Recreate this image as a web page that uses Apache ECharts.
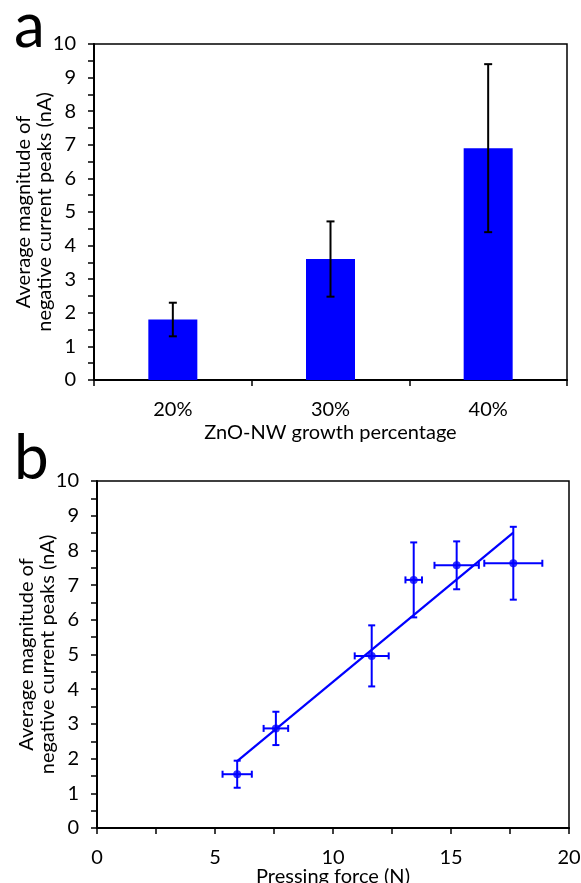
<!DOCTYPE html>
<html>
<head>
<meta charset="utf-8">
<script src="https://cdn.jsdelivr.net/npm/echarts@6/dist/echarts.min.js"></script>
<style>
  html, body { margin: 0; padding: 0; background: #fff; }
  #main { width: 581px; height: 883px; }
</style>
</head>
<body>
<div id="main"></div>
<script>
// panel a: bar chart
var growthCats = ['20%', '30%', '40%'];
var peakMean = [1.8, 3.6, 6.9];
var peakErr = [0.5, 1.12, 2.5];

// panel b: scatter with x/y error bars
var forceX = [5.94, 7.58, 11.64, 13.42, 15.24, 17.64];
var forceY = [1.55, 2.87, 4.96, 7.15, 7.57, 7.63];
var forceXErr = [0.62, 0.52, 0.72, 0.35, 0.94, 1.23];
var forceYErr = [0.39, 0.48, 0.88, 1.08, 0.69, 1.05];
// fitted line end points
var fitX = [5.94, 17.64];
var fitY = [1.93, 8.51];

var yTicks = [0, 1, 2, 3, 4, 5, 6, 7, 8, 9, 10];
var xTicksB = [0, 5, 10, 15, 20];

var FONT = 'Lato';
var BLUE = '#0000ff';

var chart = echarts.init(document.getElementById('main'));

var barErrData = peakMean.map(function (v, i) {
  return [i, v - peakErr[i], v + peakErr[i]];
});
var pointErrData = forceX.map(function (x, i) {
  return [x, forceY[i], forceXErr[i], forceYErr[i]];
});

function yAxisCommon(gridIndex) {
  return {
    gridIndex: gridIndex,
    type: 'value',
    min: yTicks[0],
    max: yTicks[yTicks.length - 1],
    interval: 1,
    name: 'Average magnitude of\nnegative current peaks (nA)',
    nameLocation: 'middle',
    nameGap: 39,
    nameMoveOverlap: false,
    nameTextStyle: { fontFamily: FONT, fontSize: 20, color: '#000', lineHeight: 21 },
    axisLine: { show: true, lineStyle: { color: '#000', width: 2 } },
    axisTick: { show: true, inside: false, length: 6, lineStyle: { color: '#000', width: 1.5 } },
    minorTick: { show: true, splitNumber: 2, length: 6, lineStyle: { color: '#000', width: 1.5 } },
    axisLabel: { fontFamily: FONT, fontSize: 20, color: '#000', margin: 18 },
    splitLine: { show: false }
  };
}

var option = {
  backgroundColor: '#fff',
  animation: false,
  graphic: [
    { type: 'text', left: 14, top: -4, style: { text: 'a', font: '62px Lato', fill: '#000' } },
    { type: 'text', left: 14, top: 428, style: { text: 'b', font: '62px Lato', fill: '#000' } }
  ],
  grid: [
    { left: 94, top: 44, width: 473, height: 336, outerBoundsMode: 'none', containLabel: false, show: true, borderColor: '#000', borderWidth: 1.5, backgroundColor: 'transparent' },
    { left: 97, top: 481, width: 472, height: 347, outerBoundsMode: 'none', containLabel: false, show: true, borderColor: '#000', borderWidth: 1.5, backgroundColor: 'transparent' }
  ],
  xAxis: [
    {
      gridIndex: 0,
      type: 'category',
      data: growthCats,
      name: 'ZnO-NW growth percentage',
      nameLocation: 'middle',
      nameGap: 43,
      nameMoveOverlap: false,
      nameTextStyle: { fontFamily: FONT, fontSize: 20, color: '#000' },
      axisLine: { lineStyle: { color: '#000', width: 2 } },
      axisTick: { show: true, inside: false, length: 6, lineStyle: { color: '#000', width: 1.5 } },
      axisLabel: { fontFamily: FONT, fontSize: 20, color: '#000', margin: 20 },
      splitLine: { show: false }
    },
    {
      gridIndex: 1,
      type: 'value',
      min: xTicksB[0],
      max: xTicksB[xTicksB.length - 1],
      interval: 5,
      name: 'Pressing force (N)',
      nameLocation: 'middle',
      nameGap: 39,
      nameMoveOverlap: false,
      nameTextStyle: { fontFamily: FONT, fontSize: 20, color: '#000' },
      axisLine: { lineStyle: { color: '#000', width: 2 } },
      axisTick: { show: true, inside: false, length: 6, lineStyle: { color: '#000', width: 1.5 } },
      minorTick: { show: true, splitNumber: 2, length: 6, lineStyle: { color: '#000', width: 1.5 } },
      axisLabel: { fontFamily: FONT, fontSize: 20, color: '#000', margin: 20 },
      splitLine: { show: false }
    }
  ],
  yAxis: [yAxisCommon(0), yAxisCommon(1)],
  series: [
    {
      type: 'bar',
      xAxisIndex: 0,
      yAxisIndex: 0,
      data: peakMean,
      barWidth: 49,
      itemStyle: { color: BLUE }
    },
    {
      type: 'custom',
      xAxisIndex: 0,
      yAxisIndex: 0,
      data: barErrData,
      z: 5,
      renderItem: function (params, api) {
        var lo = api.coord([api.value(0), api.value(1)]);
        var hi = api.coord([api.value(0), api.value(2)]);
        var cap = 4;
        var st = { stroke: '#000', lineWidth: 2 };
        return {
          type: 'group',
          children: [
            { type: 'line', shape: { x1: hi[0], y1: hi[1], x2: lo[0], y2: lo[1] }, style: st },
            { type: 'line', shape: { x1: hi[0] - cap, y1: hi[1], x2: hi[0] + cap, y2: hi[1] }, style: st },
            { type: 'line', shape: { x1: lo[0] - cap, y1: lo[1], x2: lo[0] + cap, y2: lo[1] }, style: st }
          ]
        };
      }
    },
    {
      type: 'line',
      xAxisIndex: 1,
      yAxisIndex: 1,
      data: fitX.map(function (x, i) { return [x, fitY[i]]; }),
      showSymbol: false,
      lineStyle: { color: BLUE, width: 2.2 },
      z: 2
    },
    {
      type: 'custom',
      xAxisIndex: 1,
      yAxisIndex: 1,
      data: pointErrData,
      z: 4,
      renderItem: function (params, api) {
        var x = api.value(0), y = api.value(1), ex = api.value(2), ey = api.value(3);
        var l = api.coord([x - ex, y]);
        var r = api.coord([x + ex, y]);
        var t = api.coord([x, y + ey]);
        var b = api.coord([x, y - ey]);
        var cap = 3.5;
        var st = { stroke: BLUE, lineWidth: 2 };
        return {
          type: 'group',
          children: [
            { type: 'line', shape: { x1: l[0], y1: l[1], x2: r[0], y2: r[1] }, style: st },
            { type: 'line', shape: { x1: t[0], y1: t[1], x2: b[0], y2: b[1] }, style: st },
            { type: 'line', shape: { x1: l[0], y1: l[1] - cap, x2: l[0], y2: l[1] + cap }, style: st },
            { type: 'line', shape: { x1: r[0], y1: r[1] - cap, x2: r[0], y2: r[1] + cap }, style: st },
            { type: 'line', shape: { x1: t[0] - cap, y1: t[1], x2: t[0] + cap, y2: t[1] }, style: st },
            { type: 'line', shape: { x1: b[0] - cap, y1: b[1], x2: b[0] + cap, y2: b[1] }, style: st }
          ]
        };
      }
    },
    {
      type: 'scatter',
      xAxisIndex: 1,
      yAxisIndex: 1,
      data: forceX.map(function (x, i) { return [x, forceY[i]]; }),
      symbol: 'circle',
      symbolSize: 8,
      itemStyle: { color: BLUE },
      z: 6
    }
  ]
};

chart.setOption(option);
</script>
</body>
</html>
